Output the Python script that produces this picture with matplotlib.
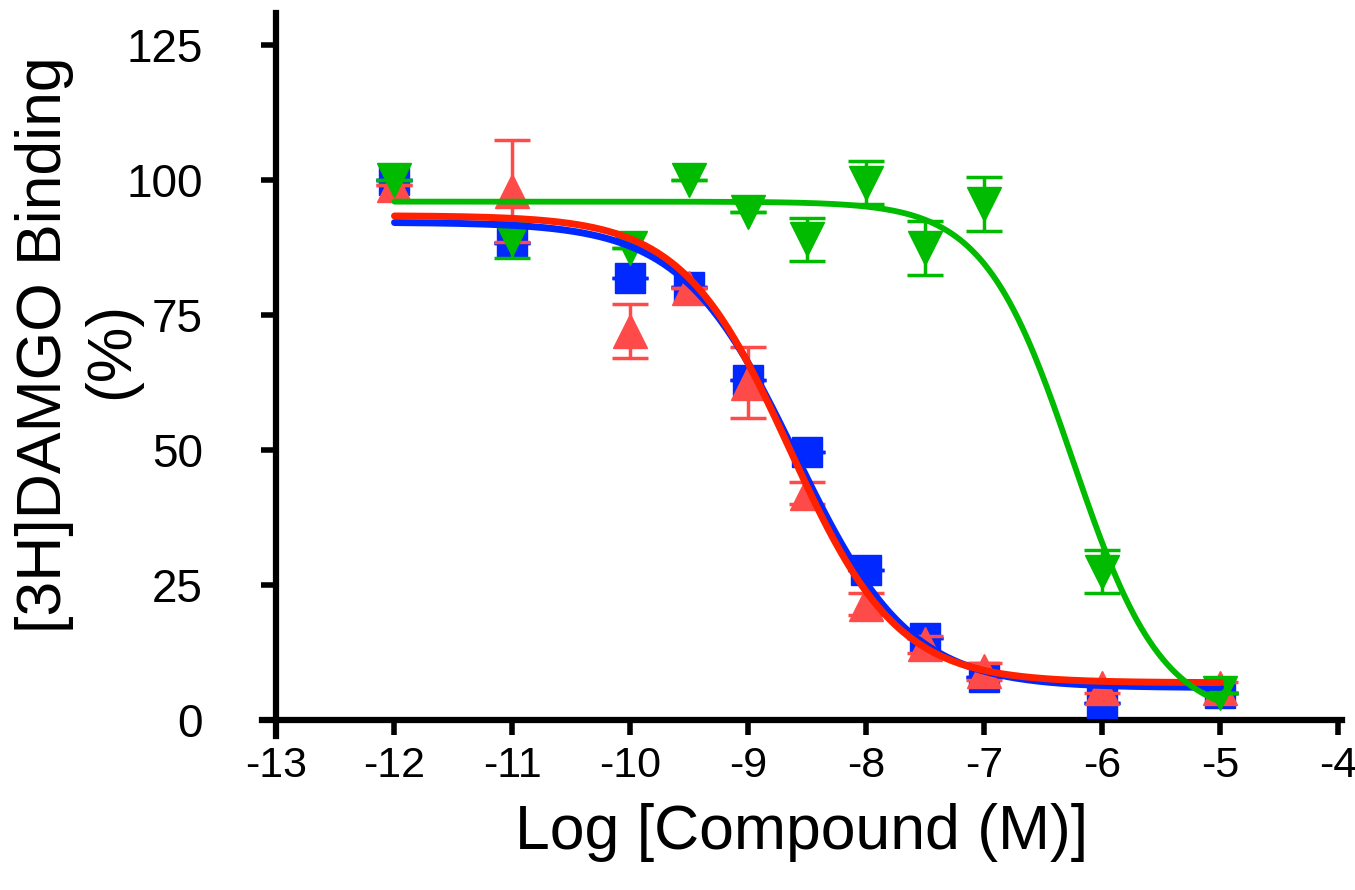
import numpy as np
import matplotlib
matplotlib.use("Agg")
import matplotlib.pyplot as plt

plt.rcParams['font.family'] = ['Liberation Sans', 'DejaVu Sans']

# ---- data ----
log_conc = [-12, -11, -10, -9.5, -9, -8.5, -8, -7.5, -7, -6, -5]

blue_y   = [100, 88.3, 81.9, 80.2, 63.0, 49.6, 27.8, 15.2, 8.0, 3.1, 5.0]
blue_err = [0, 0, 0, 0, 0, 0, 0, 0, 0, 0, 0]

red_y    = [99, 98, 72, 80, 62.5, 42, 21.5, 14, 9, 6, 6]
red_err  = [0, 9.5, 5, 0, 6.5, 2, 2, 1.5, 1.5, 1, 1]

green_y   = [100, 89, 87.5, 100, 94, 89, 99.5, 87.5, 95.5, 27.5, 5]
green_err = [0, 3.5, 0, 0, 0, 4, 4, 5, 5, 4, 0]

# fitted sigmoid parameters: top, bottom, logIC50, hill
blue_fit  = (92.2, 6.0, -8.60, 0.90)
red_fit   = (93.4, 6.9, -8.65, 0.95)
green_fit = (96.0, 0.0, -6.25, 1.15)

x_ticks = [-13, -12, -11, -10, -9, -8, -7, -6, -5, -4]
y_ticks = [0, 25, 50, 75, 100, 125]

# ---- styling ----
BLUE = '#0028FF'
RED_LINE = '#FF2000'
RED_MK = '#FF4A4A'
GREEN = '#00BB00'

fig = plt.figure(figsize=(13.55, 8.9), dpi=100)
ax = fig.add_axes([0.1936, 0.1728, 0.7968, 0.8130])

def curve(p, x):
    top, bottom, ic50, hill = p
    return bottom + (top - bottom) / (1 + 10 ** ((x - ic50) * hill))

xs = np.linspace(-12, -5, 400)

ax.errorbar(log_conc, blue_y, yerr=blue_err, fmt='s', color=BLUE, ms=21,
            elinewidth=2.5, capsize=13, capthick=2.5, zorder=3, clip_on=False)
ax.errorbar(log_conc, red_y, yerr=red_err, fmt='^', color=RED_MK, ms=24,
            elinewidth=2.5, capsize=13, capthick=2.5, zorder=4, clip_on=False)
ax.errorbar(log_conc, green_y, yerr=green_err, fmt='v', color=GREEN, ms=24,
            elinewidth=2.5, capsize=13, capthick=2.5, zorder=5, clip_on=False)

ax.plot(xs, curve(blue_fit, xs), color=BLUE, lw=5, zorder=6, solid_capstyle='round')
ax.plot(xs, curve(red_fit, xs), color=RED_LINE, lw=5, zorder=7, solid_capstyle='round')
ax.plot(xs, curve(green_fit, xs), color=GREEN, lw=4.2, zorder=8, solid_capstyle='round')

ax.set_xlim(-13.12, -3.97)
ax.set_ylim(-3, 131)
ax.spines['left'].set_position(('data', -13))
ax.spines['bottom'].set_position(('data', 0))
ax.spines['top'].set_visible(False)
ax.spines['right'].set_visible(False)
for s in ('left', 'bottom'):
    ax.spines[s].set_linewidth(4.5)
    ax.spines[s].set_color('black')

ax.set_xticks(x_ticks)
ax.set_xticklabels([str(t) for t in x_ticks])
ax.set_yticks(y_ticks)
ax.set_yticklabels([str(t) for t in y_ticks])
ax.tick_params(axis='both', direction='out', length=11, width=4)
ax.tick_params(axis='y', pad=42, labelsize=33)
ax.tick_params(axis='x', pad=8, labelsize=31)

fig.text(802 / 1355, 1 - 833 / 890, 'Log [Compound (M)]', ha='center', va='center',
         fontsize=45)
fig.text(45 / 1355, 1 - 345 / 890, '[3H]DAMGO Binding', ha='center', va='center',
         rotation=90, fontsize=45)
fig.text(112 / 1355, 1 - 350 / 890, '(%)', ha='center', va='center',
         rotation=90, fontsize=45)

fig.savefig('out.png', dpi=100)
